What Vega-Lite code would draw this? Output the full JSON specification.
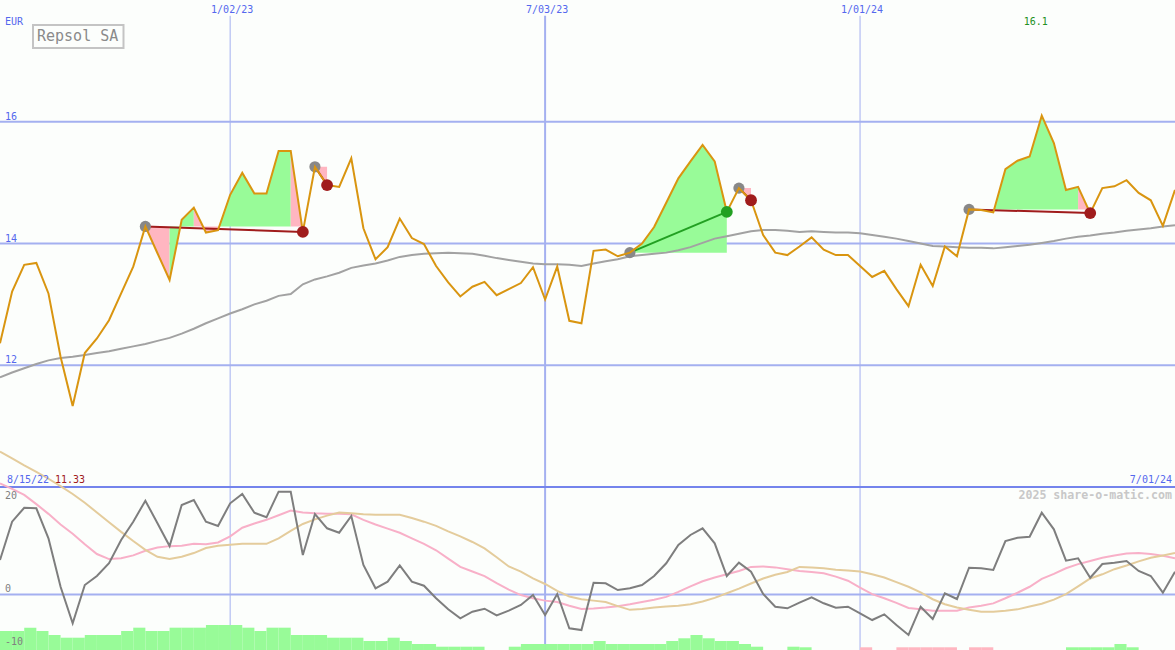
{
"$schema": "https://vega.github.io/schema/vega-lite/v6.json",
"width": 1175, "height": 650, "padding": 0, "autosize": {"type": "none"},
"background": "#fcfefc",
"config": {"view": {"stroke": null}, "font": "DejaVu Sans Mono"},
"datasets": {
"xticks": [
{"date":"2023-01-02","label":"1/02/23"},
{"date":"2023-07-03","label":"7/03/23"},
{"date":"2024-01-01","label":"1/01/24"}
],
"yticks": [
{"v":12,"label":"12"},
{"v":14,"label":"14"},
{"v":16,"label":"16"}
],
"oticks": [
{"v":20,"label":"20"},
{"v":0,"label":"0"},
{"v":-10,"label":"-10"}
],
"weekly": [
{"date":"2022-08-22","close":12.36,"ma":11.80,"osc":6.50,"fast":20.88,"slow":26.86},
{"date":"2022-08-29","close":13.21,"ma":11.88,"osc":13.69,"fast":19.84,"slow":25.56},
{"date":"2022-09-05","close":13.65,"ma":11.95,"osc":16.31,"fast":18.71,"slow":24.26},
{"date":"2022-09-12","close":13.68,"ma":12.02,"osc":16.20,"fast":16.98,"slow":23.05},
{"date":"2022-09-19","close":13.18,"ma":12.08,"osc":10.57,"fast":15.16,"slow":21.75},
{"date":"2022-09-26","close":12.14,"ma":12.12,"osc":1.48,"fast":13.17,"slow":20.36},
{"date":"2022-10-03","close":11.33,"ma":12.14,"osc":-5.39,"fast":11.44,"slow":18.89},
{"date":"2022-10-10","close":12.20,"ma":12.17,"osc":1.80,"fast":9.44,"slow":17.24},
{"date":"2022-10-17","close":12.44,"ma":12.20,"osc":3.49,"fast":7.62,"slow":15.42},
{"date":"2022-10-24","close":12.74,"ma":12.23,"osc":5.88,"fast":6.67,"slow":13.60},
{"date":"2022-10-31","close":13.18,"ma":12.27,"osc":10.25,"fast":6.84,"slow":11.78},
{"date":"2022-11-07","close":13.62,"ma":12.31,"osc":13.69,"fast":7.36,"slow":10.05},
{"date":"2022-11-14","close":14.28,"ma":12.35,"osc":17.63,"fast":8.23,"slow":8.40},
{"date":"2022-11-21","close":13.84,"ma":12.40,"osc":13.38,"fast":8.84,"slow":7.10},
{"date":"2022-11-28","close":13.40,"ma":12.45,"osc":9.12,"fast":9.10,"slow":6.67},
{"date":"2022-12-05","close":14.39,"ma":12.52,"osc":16.82,"fast":9.18,"slow":7.10},
{"date":"2022-12-12","close":14.59,"ma":12.60,"osc":17.76,"fast":9.53,"slow":7.80},
{"date":"2022-12-19","close":14.18,"ma":12.69,"osc":13.69,"fast":9.44,"slow":8.75},
{"date":"2022-12-26","close":14.22,"ma":12.77,"osc":12.88,"fast":9.79,"slow":9.18},
{"date":"2023-01-02","close":14.80,"ma":12.85,"osc":17.14,"fast":10.92,"slow":9.36},
{"date":"2023-01-09","close":15.16,"ma":12.92,"osc":18.88,"fast":12.56,"slow":9.53},
{"date":"2023-01-16","close":14.82,"ma":13.00,"osc":15.37,"fast":13.34,"slow":9.53},
{"date":"2023-01-23","close":14.82,"ma":13.06,"osc":14.51,"fast":14.04,"slow":9.53},
{"date":"2023-01-30","close":15.52,"ma":13.14,"osc":19.32,"fast":14.90,"slow":10.57},
{"date":"2023-02-06","close":15.52,"ma":13.17,"osc":19.32,"fast":15.77,"slow":11.96},
{"date":"2023-02-13","close":14.19,"ma":13.33,"osc":7.43,"fast":15.42,"slow":13.26},
{"date":"2023-02-20","close":15.26,"ma":13.41,"osc":15.13,"fast":15.25,"slow":14.12},
{"date":"2023-02-27","close":14.96,"ma":13.46,"osc":12.45,"fast":15.16,"slow":14.82},
{"date":"2023-03-06","close":14.93,"ma":13.52,"osc":11.62,"fast":15.16,"slow":15.42},
{"date":"2023-03-13","close":15.40,"ma":13.60,"osc":14.76,"fast":15.08,"slow":15.25},
{"date":"2023-03-20","close":14.25,"ma":13.64,"osc":5.56,"fast":14.04,"slow":15.08},
{"date":"2023-03-27","close":13.74,"ma":13.67,"osc":1.18,"fast":13.17,"slow":14.99},
{"date":"2023-04-03","close":13.94,"ma":13.72,"osc":2.42,"fast":12.39,"slow":14.99},
{"date":"2023-04-10","close":14.41,"ma":13.78,"osc":5.46,"fast":11.61,"slow":14.99},
{"date":"2023-04-17","close":14.09,"ma":13.81,"osc":2.42,"fast":10.57,"slow":14.38},
{"date":"2023-04-24","close":13.99,"ma":13.83,"osc":1.67,"fast":9.53,"slow":13.69},
{"date":"2023-05-01","close":13.63,"ma":13.84,"osc":-0.69,"fast":8.32,"slow":12.91},
{"date":"2023-05-08","close":13.36,"ma":13.85,"osc":-2.76,"fast":6.76,"slow":11.87},
{"date":"2023-05-15","close":13.13,"ma":13.84,"osc":-4.45,"fast":5.20,"slow":10.92},
{"date":"2023-05-22","close":13.29,"ma":13.83,"osc":-3.21,"fast":4.33,"slow":9.88},
{"date":"2023-05-29","close":13.37,"ma":13.80,"osc":-2.65,"fast":3.47,"slow":8.66},
{"date":"2023-06-05","close":13.15,"ma":13.76,"osc":-3.89,"fast":2.17,"slow":7.02},
{"date":"2023-06-12","close":13.25,"ma":13.73,"osc":-3.02,"fast":0.95,"slow":5.29},
{"date":"2023-06-19","close":13.35,"ma":13.70,"osc":-1.95,"fast":-0.09,"slow":4.33},
{"date":"2023-06-26","close":13.61,"ma":13.67,"osc":-0.08,"fast":-0.69,"slow":3.03},
{"date":"2023-07-03","close":13.08,"ma":13.66,"osc":-3.83,"fast":-1.13,"slow":1.99},
{"date":"2023-07-10","close":13.62,"ma":13.66,"osc":0.11,"fast":-1.39,"slow":0.69},
{"date":"2023-07-17","close":12.73,"ma":13.65,"osc":-6.33,"fast":-2.08,"slow":-0.35},
{"date":"2023-07-24","close":12.69,"ma":13.63,"osc":-6.65,"fast":-2.69,"slow":-0.87},
{"date":"2023-07-31","close":13.88,"ma":13.67,"osc":2.23,"fast":-2.60,"slow":-1.13},
{"date":"2023-08-07","close":13.90,"ma":13.71,"osc":2.12,"fast":-2.43,"slow":-1.39},
{"date":"2023-08-14","close":13.79,"ma":13.74,"osc":0.86,"fast":-2.17,"slow":-2.17},
{"date":"2023-08-21","close":13.85,"ma":13.79,"osc":1.18,"fast":-1.82,"slow":-2.86},
{"date":"2023-08-28","close":14.00,"ma":13.81,"osc":1.80,"fast":-1.39,"slow":-2.69},
{"date":"2023-09-04","close":14.27,"ma":13.83,"osc":3.49,"fast":-0.95,"slow":-2.43},
{"date":"2023-09-11","close":14.67,"ma":13.85,"osc":5.88,"fast":-0.43,"slow":-2.25},
{"date":"2023-09-18","close":15.07,"ma":13.89,"osc":9.31,"fast":0.52,"slow":-2.08},
{"date":"2023-09-25","close":15.35,"ma":13.94,"osc":11.19,"fast":1.56,"slow":-1.82},
{"date":"2023-10-02","close":15.62,"ma":14.01,"osc":12.45,"fast":2.51,"slow":-1.30},
{"date":"2023-10-09","close":15.35,"ma":14.08,"osc":9.63,"fast":3.21,"slow":-0.61},
{"date":"2023-10-16","close":14.52,"ma":14.12,"osc":3.49,"fast":3.81,"slow":0.26},
{"date":"2023-10-23","close":14.91,"ma":14.16,"osc":5.99,"fast":4.42,"slow":1.13},
{"date":"2023-10-30","close":14.71,"ma":14.20,"osc":4.30,"fast":5.20,"slow":2.08},
{"date":"2023-11-06","close":14.14,"ma":14.22,"osc":0.11,"fast":5.29,"slow":3.03},
{"date":"2023-11-13","close":13.85,"ma":14.22,"osc":-2.27,"fast":5.11,"slow":3.73},
{"date":"2023-11-20","close":13.81,"ma":14.21,"osc":-2.57,"fast":4.77,"slow":4.25},
{"date":"2023-11-27","close":13.95,"ma":14.19,"osc":-1.52,"fast":4.42,"slow":5.20},
{"date":"2023-12-04","close":14.10,"ma":14.20,"osc":-0.51,"fast":4.25,"slow":5.11},
{"date":"2023-12-11","close":13.90,"ma":14.19,"osc":-1.63,"fast":3.99,"slow":4.94},
{"date":"2023-12-18","close":13.81,"ma":14.18,"osc":-2.46,"fast":3.38,"slow":4.68},
{"date":"2023-12-25","close":13.81,"ma":14.18,"osc":-2.27,"fast":2.60,"slow":4.51},
{"date":"2024-01-01","close":13.63,"ma":14.17,"osc":-3.51,"fast":1.30,"slow":4.33},
{"date":"2024-01-08","close":13.45,"ma":14.14,"osc":-4.77,"fast":0.09,"slow":3.81},
{"date":"2024-01-15","close":13.55,"ma":14.11,"osc":-3.70,"fast":-0.69,"slow":3.21},
{"date":"2024-01-22","close":13.25,"ma":14.08,"osc":-5.71,"fast":-1.56,"slow":2.34},
{"date":"2024-01-29","close":12.97,"ma":14.04,"osc":-7.58,"fast":-2.51,"slow":1.47},
{"date":"2024-02-05","close":13.65,"ma":14.00,"osc":-2.27,"fast":-2.77,"slow":0.43},
{"date":"2024-02-12","close":13.30,"ma":13.96,"osc":-4.58,"fast":-3.03,"slow":-0.87},
{"date":"2024-02-19","close":13.95,"ma":13.95,"osc":0.24,"fast":-3.03,"slow":-1.82},
{"date":"2024-02-26","close":13.79,"ma":13.94,"osc":-0.83,"fast":-3.03,"slow":-2.43},
{"date":"2024-03-04","close":14.56,"ma":13.93,"osc":5.05,"fast":-2.43,"slow":-2.86},
{"date":"2024-03-11","close":14.55,"ma":13.93,"osc":4.94,"fast":-2.08,"slow":-3.21},
{"date":"2024-03-18","close":14.51,"ma":13.92,"osc":4.62,"fast":-1.65,"slow":-3.21},
{"date":"2024-03-25","close":15.22,"ma":13.94,"osc":10.06,"fast":-0.69,"slow":-3.03},
{"date":"2024-04-01","close":15.36,"ma":13.96,"osc":10.68,"fast":0.35,"slow":-2.77},
{"date":"2024-04-08","close":15.43,"ma":13.98,"osc":10.87,"fast":1.47,"slow":-2.25},
{"date":"2024-04-15","close":16.10,"ma":14.01,"osc":15.37,"fast":2.95,"slow":-1.73},
{"date":"2024-04-22","close":15.65,"ma":14.04,"osc":12.26,"fast":3.90,"slow":-0.95},
{"date":"2024-04-29","close":14.88,"ma":14.08,"osc":6.36,"fast":4.94,"slow":0.09},
{"date":"2024-05-06","close":14.93,"ma":14.11,"osc":6.81,"fast":5.72,"slow":1.56},
{"date":"2024-05-13","close":14.50,"ma":14.13,"osc":3.17,"fast":6.32,"slow":3.03},
{"date":"2024-05-20","close":14.91,"ma":14.16,"osc":5.74,"fast":6.93,"slow":3.81},
{"date":"2024-05-27","close":14.94,"ma":14.18,"osc":5.99,"fast":7.36,"slow":4.77},
{"date":"2024-06-03","close":15.04,"ma":14.21,"osc":6.31,"fast":7.71,"slow":5.46},
{"date":"2024-06-10","close":14.83,"ma":14.23,"osc":4.43,"fast":7.80,"slow":6.24},
{"date":"2024-06-17","close":14.71,"ma":14.25,"osc":3.49,"fast":7.62,"slow":6.93},
{"date":"2024-06-24","close":14.29,"ma":14.28,"osc":0.36,"fast":7.28,"slow":7.36},
{"date":"2024-07-01","close":14.88,"ma":14.30,"osc":4.30,"fast":6.84,"slow":7.80}
],
"bars": [
{"date":"2022-08-22","end":"2022-08-29","h":-6.83,"dir":"up"},
{"date":"2022-08-29","end":"2022-09-05","h":-6.83,"dir":"up"},
{"date":"2022-09-05","end":"2022-09-12","h":-6.21,"dir":"up"},
{"date":"2022-09-12","end":"2022-09-19","h":-6.83,"dir":"up"},
{"date":"2022-09-19","end":"2022-09-26","h":-7.58,"dir":"up"},
{"date":"2022-09-26","end":"2022-10-03","h":-8.09,"dir":"up"},
{"date":"2022-10-03","end":"2022-10-10","h":-8.09,"dir":"up"},
{"date":"2022-10-10","end":"2022-10-17","h":-7.58,"dir":"up"},
{"date":"2022-10-17","end":"2022-10-24","h":-7.58,"dir":"up"},
{"date":"2022-10-24","end":"2022-10-31","h":-7.58,"dir":"up"},
{"date":"2022-10-31","end":"2022-11-07","h":-6.83,"dir":"up"},
{"date":"2022-11-07","end":"2022-11-14","h":-6.21,"dir":"up"},
{"date":"2022-11-14","end":"2022-11-21","h":-6.83,"dir":"up"},
{"date":"2022-11-21","end":"2022-11-28","h":-6.83,"dir":"up"},
{"date":"2022-11-28","end":"2022-12-05","h":-6.21,"dir":"up"},
{"date":"2022-12-05","end":"2022-12-12","h":-6.21,"dir":"up"},
{"date":"2022-12-12","end":"2022-12-19","h":-6.21,"dir":"up"},
{"date":"2022-12-19","end":"2022-12-26","h":-5.71,"dir":"up"},
{"date":"2022-12-26","end":"2023-01-02","h":-5.71,"dir":"up"},
{"date":"2023-01-02","end":"2023-01-09","h":-5.71,"dir":"up"},
{"date":"2023-01-09","end":"2023-01-16","h":-6.21,"dir":"up"},
{"date":"2023-01-16","end":"2023-01-23","h":-6.83,"dir":"up"},
{"date":"2023-01-23","end":"2023-01-30","h":-6.21,"dir":"up"},
{"date":"2023-01-30","end":"2023-02-06","h":-6.21,"dir":"up"},
{"date":"2023-02-06","end":"2023-02-13","h":-7.58,"dir":"up"},
{"date":"2023-02-13","end":"2023-02-20","h":-7.58,"dir":"up"},
{"date":"2023-02-20","end":"2023-02-27","h":-7.58,"dir":"up"},
{"date":"2023-02-27","end":"2023-03-06","h":-8.09,"dir":"up"},
{"date":"2023-03-06","end":"2023-03-13","h":-8.09,"dir":"up"},
{"date":"2023-03-13","end":"2023-03-20","h":-8.09,"dir":"up"},
{"date":"2023-03-20","end":"2023-03-27","h":-8.71,"dir":"up"},
{"date":"2023-03-27","end":"2023-04-03","h":-8.71,"dir":"up"},
{"date":"2023-04-03","end":"2023-04-10","h":-8.09,"dir":"up"},
{"date":"2023-04-10","end":"2023-04-17","h":-8.71,"dir":"up"},
{"date":"2023-04-17","end":"2023-04-24","h":-9.27,"dir":"up"},
{"date":"2023-04-24","end":"2023-05-01","h":-9.27,"dir":"up"},
{"date":"2023-05-01","end":"2023-05-08","h":-9.78,"dir":"up"},
{"date":"2023-05-08","end":"2023-05-15","h":-9.78,"dir":"up"},
{"date":"2023-05-15","end":"2023-05-22","h":-9.78,"dir":"up"},
{"date":"2023-05-22","end":"2023-05-29","h":-9.78,"dir":"up"},
{"date":"2023-06-12","end":"2023-06-19","h":-9.78,"dir":"up"},
{"date":"2023-06-19","end":"2023-06-26","h":-9.27,"dir":"up"},
{"date":"2023-06-26","end":"2023-07-03","h":-9.27,"dir":"up"},
{"date":"2023-07-03","end":"2023-07-10","h":-9.27,"dir":"up"},
{"date":"2023-07-10","end":"2023-07-17","h":-9.27,"dir":"up"},
{"date":"2023-07-17","end":"2023-07-24","h":-9.27,"dir":"up"},
{"date":"2023-07-24","end":"2023-07-31","h":-9.27,"dir":"up"},
{"date":"2023-07-31","end":"2023-08-07","h":-8.71,"dir":"up"},
{"date":"2023-08-07","end":"2023-08-14","h":-9.27,"dir":"up"},
{"date":"2023-08-14","end":"2023-08-21","h":-9.27,"dir":"up"},
{"date":"2023-08-21","end":"2023-08-28","h":-9.27,"dir":"up"},
{"date":"2023-08-28","end":"2023-09-04","h":-9.27,"dir":"up"},
{"date":"2023-09-04","end":"2023-09-11","h":-9.27,"dir":"up"},
{"date":"2023-09-11","end":"2023-09-18","h":-8.71,"dir":"up"},
{"date":"2023-09-18","end":"2023-09-25","h":-8.20,"dir":"up"},
{"date":"2023-09-25","end":"2023-10-02","h":-7.58,"dir":"up"},
{"date":"2023-10-02","end":"2023-10-09","h":-8.20,"dir":"up"},
{"date":"2023-10-09","end":"2023-10-16","h":-8.71,"dir":"up"},
{"date":"2023-10-16","end":"2023-10-23","h":-8.71,"dir":"up"},
{"date":"2023-10-23","end":"2023-10-30","h":-9.27,"dir":"up"},
{"date":"2023-10-30","end":"2023-11-06","h":-9.78,"dir":"up"},
{"date":"2023-11-20","end":"2023-11-27","h":-9.78,"dir":"up"},
{"date":"2023-11-27","end":"2023-12-04","h":-9.89,"dir":"up"},
{"date":"2024-01-01","end":"2024-01-08","h":-9.89,"dir":"down"},
{"date":"2024-01-22","end":"2024-01-29","h":-9.89,"dir":"down"},
{"date":"2024-01-29","end":"2024-02-05","h":-9.89,"dir":"down"},
{"date":"2024-02-05","end":"2024-02-12","h":-9.89,"dir":"down"},
{"date":"2024-02-12","end":"2024-02-19","h":-9.89,"dir":"down"},
{"date":"2024-02-19","end":"2024-02-26","h":-9.89,"dir":"down"},
{"date":"2024-03-04","end":"2024-03-11","h":-9.89,"dir":"down"},
{"date":"2024-03-11","end":"2024-03-18","h":-9.89,"dir":"down"},
{"date":"2024-04-29","end":"2024-05-06","h":-9.89,"dir":"up"},
{"date":"2024-05-06","end":"2024-05-13","h":-9.89,"dir":"up"},
{"date":"2024-05-13","end":"2024-05-20","h":-9.89,"dir":"up"},
{"date":"2024-05-20","end":"2024-05-27","h":-9.89,"dir":"up"},
{"date":"2024-05-27","end":"2024-06-03","h":-9.27,"dir":"up"},
{"date":"2024-06-03","end":"2024-06-10","h":-9.89,"dir":"up"}
],
"fills": [
{"run":"a","date":"2022-11-14","close":14.28,"level":14.28,"dir":"down"},
{"run":"a","date":"2022-11-21","close":13.84,"level":14.28,"dir":"down"},
{"run":"a","date":"2022-11-28","close":13.40,"level":14.28,"dir":"down"},
{"run":"b","date":"2022-11-28","close":13.40,"level":14.28,"dir":"up"},
{"run":"b","date":"2022-12-05","close":14.39,"level":14.28,"dir":"up"},
{"run":"b","date":"2022-12-12","close":14.59,"level":14.28,"dir":"up"},
{"run":"c","date":"2022-12-12","close":14.59,"level":14.28,"dir":"down"},
{"run":"c","date":"2022-12-19","close":14.18,"level":14.28,"dir":"down"},
{"run":"c","date":"2022-12-26","close":14.22,"level":14.28,"dir":"down"},
{"run":"d","date":"2022-12-26","close":14.22,"level":14.28,"dir":"up"},
{"run":"d","date":"2023-01-02","close":14.80,"level":14.28,"dir":"up"},
{"run":"d","date":"2023-01-09","close":15.16,"level":14.28,"dir":"up"},
{"run":"d","date":"2023-01-16","close":14.82,"level":14.28,"dir":"up"},
{"run":"d","date":"2023-01-23","close":14.82,"level":14.28,"dir":"up"},
{"run":"d","date":"2023-01-30","close":15.52,"level":14.28,"dir":"up"},
{"run":"d","date":"2023-02-06","close":15.52,"level":14.28,"dir":"up"},
{"run":"e","date":"2023-02-06","close":15.52,"level":14.28,"dir":"down"},
{"run":"e","date":"2023-02-13","close":14.19,"level":14.28,"dir":"down"},
{"run":"f","date":"2023-02-20","close":15.26,"level":15.26,"dir":"down"},
{"run":"f","date":"2023-02-27","close":14.96,"level":15.26,"dir":"down"},
{"run":"g","date":"2023-08-21","close":13.85,"level":13.85,"dir":"up"},
{"run":"g","date":"2023-08-28","close":14.00,"level":13.85,"dir":"up"},
{"run":"g","date":"2023-09-04","close":14.27,"level":13.85,"dir":"up"},
{"run":"g","date":"2023-09-11","close":14.67,"level":13.85,"dir":"up"},
{"run":"g","date":"2023-09-18","close":15.07,"level":13.85,"dir":"up"},
{"run":"g","date":"2023-09-25","close":15.35,"level":13.85,"dir":"up"},
{"run":"g","date":"2023-10-02","close":15.62,"level":13.85,"dir":"up"},
{"run":"g","date":"2023-10-09","close":15.35,"level":13.85,"dir":"up"},
{"run":"g","date":"2023-10-16","close":14.52,"level":13.85,"dir":"up"},
{"run":"h","date":"2023-10-23","close":14.91,"level":14.91,"dir":"down"},
{"run":"h","date":"2023-10-30","close":14.71,"level":14.91,"dir":"down"},
{"run":"i","date":"2024-03-04","close":14.56,"level":14.56,"dir":"down"},
{"run":"i","date":"2024-03-11","close":14.55,"level":14.56,"dir":"down"},
{"run":"i","date":"2024-03-18","close":14.51,"level":14.56,"dir":"down"},
{"run":"j","date":"2024-03-18","close":14.51,"level":14.56,"dir":"up"},
{"run":"j","date":"2024-03-25","close":15.22,"level":14.56,"dir":"up"},
{"run":"j","date":"2024-04-01","close":15.36,"level":14.56,"dir":"up"},
{"run":"j","date":"2024-04-08","close":15.43,"level":14.56,"dir":"up"},
{"run":"j","date":"2024-04-15","close":16.10,"level":14.56,"dir":"up"},
{"run":"j","date":"2024-04-22","close":15.65,"level":14.56,"dir":"up"},
{"run":"j","date":"2024-04-29","close":14.88,"level":14.56,"dir":"up"},
{"run":"j","date":"2024-05-06","close":14.93,"level":14.56,"dir":"up"},
{"run":"k","date":"2024-05-06","close":14.93,"level":14.56,"dir":"down"},
{"run":"k","date":"2024-05-13","close":14.50,"level":14.56,"dir":"down"}
],
"trades": [
{"date":"2022-11-14","date2":"2023-02-13","close":14.28,"close2":14.19,"outcome":"loss"},
{"date":"2023-02-20","date2":"2023-02-27","close":15.26,"close2":14.96,"outcome":"loss"},
{"date":"2023-08-21","date2":"2023-10-16","close":13.85,"close2":14.52,"outcome":"win"},
{"date":"2023-10-23","date2":"2023-10-30","close":14.91,"close2":14.71,"outcome":"loss"},
{"date":"2024-03-04","date2":"2024-05-13","close":14.56,"close2":14.50,"outcome":"loss"}
],
"dots": [
{"date":"2022-11-14","close":14.28,"kind":"entry"},
{"date":"2023-02-20","close":15.26,"kind":"entry"},
{"date":"2023-08-21","close":13.85,"kind":"entry"},
{"date":"2023-10-23","close":14.91,"kind":"entry"},
{"date":"2024-03-04","close":14.56,"kind":"entry"},
{"date":"2023-02-13","close":14.19,"kind":"loss"},
{"date":"2023-02-27","close":14.96,"kind":"loss"},
{"date":"2023-10-16","close":14.52,"kind":"win"},
{"date":"2023-10-30","close":14.71,"kind":"loss"},
{"date":"2024-05-13","close":14.50,"kind":"loss"}
]
},
"layer": [
{"layer": [
 {"data": {"name": "xticks"}, "mark": {"type": "rule", "color": "#a4b0f0"},
  "encoding": {
   "x": {"field": "date", "type": "temporal", "scale": {"type": "utc", "domain": [{"year": 2022, "month": 8, "date": 22, "utc": true}, {"year": 2024, "month": 7, "date": 1, "utc": true}]}, "axis": null},
   "y": {"datum": 17.74, "type": "quantitative", "scale": {"domain": [10, 18], "range": [487, 0], "nice": false, "zero": false}, "axis": null},
   "y2": {"datum": 7.32},
   "strokeWidth": {"condition": {"test": "utcmonth(datum.date) === 6", "value": 2}, "value": 1}
  }},
 {"data": {"name": "yticks"}, "mark": {"type": "rule", "color": "#a4b0f0", "strokeWidth": 2},
  "encoding": {
   "y": {"field": "v", "type": "quantitative", "scale": {"domain": [10, 18], "range": [487, 0], "nice": false, "zero": false}, "axis": null}
  }},
 {"data": {"name": "xticks"}, "mark": {"type": "text", "align": "center", "baseline": "alphabetic", "dx": 2, "font": "DejaVu Sans Mono", "fontSize": 10, "color": "#5468ee"},
  "encoding": {
   "x": {"field": "date", "type": "temporal", "scale": {"type": "utc", "domain": [{"year": 2022, "month": 8, "date": 22, "utc": true}, {"year": 2024, "month": 7, "date": 1, "utc": true}]}, "axis": null},
   "y": {"datum": 17.786, "type": "quantitative", "scale": {"domain": [10, 18], "range": [487, 0], "nice": false, "zero": false}, "axis": null},
   "text": {"field": "label"}
  }},
 {"data": {"name": "yticks"}, "mark": {"type": "text", "align": "left", "baseline": "alphabetic", "dy": -2, "font": "DejaVu Sans Mono", "fontSize": 10, "color": "#5468ee"},
  "encoding": {
   "x": {"value": 5},
   "y": {"field": "v", "type": "quantitative", "scale": {"domain": [10, 18], "range": [487, 0], "nice": false, "zero": false}, "axis": null},
   "text": {"field": "label"}
  }},
 {"data": {"name": "fills"}, "mark": {"type": "area", "opacity": 1},
  "encoding": {
   "x": {"field": "date", "type": "temporal", "scale": {"type": "utc", "domain": [{"year": 2022, "month": 8, "date": 22, "utc": true}, {"year": 2024, "month": 7, "date": 1, "utc": true}]}, "axis": null},
   "y": {"field": "close", "type": "quantitative", "scale": {"domain": [10, 18], "range": [487, 0], "nice": false, "zero": false}, "axis": null},
   "y2": {"field": "level"},
   "detail": {"field": "run"},
   "color": {"field": "dir", "type": "nominal", "scale": {"domain": ["up", "down"], "range": ["#98fb98", "#ffb6c1"]}, "legend": null}
  }},
 {"data": {"name": "weekly"}, "mark": {"type": "line", "color": "#a2a2a2", "strokeWidth": 2},
  "encoding": {
   "x": {"field": "date", "type": "temporal", "scale": {"type": "utc", "domain": [{"year": 2022, "month": 8, "date": 22, "utc": true}, {"year": 2024, "month": 7, "date": 1, "utc": true}]}, "axis": null},
   "y": {"field": "ma", "type": "quantitative", "scale": {"domain": [10, 18], "range": [487, 0], "nice": false, "zero": false}, "axis": null}
  }},
 {"data": {"name": "trades"}, "mark": {"type": "rule", "strokeWidth": 2},
  "encoding": {
   "x": {"field": "date", "type": "temporal", "scale": {"type": "utc", "domain": [{"year": 2022, "month": 8, "date": 22, "utc": true}, {"year": 2024, "month": 7, "date": 1, "utc": true}]}, "axis": null},
   "x2": {"field": "date2"},
   "y": {"field": "close", "type": "quantitative", "scale": {"domain": [10, 18], "range": [487, 0], "nice": false, "zero": false}, "axis": null},
   "y2": {"field": "close2"},
   "stroke": {"field": "outcome", "type": "nominal", "scale": {"domain": ["win", "loss"], "range": ["#22a022", "#a01c1c"]}, "legend": null}
  }},
 {"data": {"name": "dots"}, "transform": [{"filter": "datum.kind === 'entry'"}],
  "mark": {"type": "point", "filled": true, "size": 125, "opacity": 1, "strokeWidth": 0},
  "encoding": {
   "x": {"field": "date", "type": "temporal", "scale": {"type": "utc", "domain": [{"year": 2022, "month": 8, "date": 22, "utc": true}, {"year": 2024, "month": 7, "date": 1, "utc": true}]}, "axis": null},
   "y": {"field": "close", "type": "quantitative", "scale": {"domain": [10, 18], "range": [487, 0], "nice": false, "zero": false}, "axis": null},
   "fill": {"field": "kind", "type": "nominal", "scale": {"domain": ["entry", "win", "loss"], "range": ["#888888", "#22a022", "#a01c1c"]}, "legend": null}
  }},
 {"data": {"name": "weekly"}, "mark": {"type": "line", "color": "#d99510", "strokeWidth": 2},
  "encoding": {
   "x": {"field": "date", "type": "temporal", "scale": {"type": "utc", "domain": [{"year": 2022, "month": 8, "date": 22, "utc": true}, {"year": 2024, "month": 7, "date": 1, "utc": true}]}, "axis": null},
   "y": {"field": "close", "type": "quantitative", "scale": {"domain": [10, 18], "range": [487, 0], "nice": false, "zero": false}, "axis": null}
  }},
 {"data": {"name": "dots"}, "transform": [{"filter": "datum.kind !== 'entry'"}],
  "mark": {"type": "point", "filled": true, "size": 140, "opacity": 1, "strokeWidth": 0},
  "encoding": {
   "x": {"field": "date", "type": "temporal", "scale": {"type": "utc", "domain": [{"year": 2022, "month": 8, "date": 22, "utc": true}, {"year": 2024, "month": 7, "date": 1, "utc": true}]}, "axis": null},
   "y": {"field": "close", "type": "quantitative", "scale": {"domain": [10, 18], "range": [487, 0], "nice": false, "zero": false}, "axis": null},
   "fill": {"field": "kind", "type": "nominal", "scale": {"domain": ["entry", "win", "loss"], "range": ["#888888", "#22a022", "#a01c1c"]}, "legend": null}
  }},
 {"data": {"values": [{"v": 10}]}, "mark": {"type": "rule", "color": "#7484ec", "strokeWidth": 2},
  "encoding": {
   "y": {"field": "v", "type": "quantitative", "scale": {"domain": [10, 18], "range": [487, 0], "nice": false, "zero": false}, "axis": null}
  }}
]},
{"layer": [
 {"data": {"name": "oticks"}, "transform": [{"filter": "datum.v === 0"}], "mark": {"type": "rule", "color": "#a4b0f0", "strokeWidth": 2},
  "encoding": {
   "y": {"field": "v", "type": "quantitative", "scale": {"domain": [-10.4, 20.2], "range": [650, 487], "nice": false, "zero": false}, "axis": null}
  }},
 {"data": {"name": "bars"}, "mark": {"type": "rect"},
  "encoding": {
   "x": {"field": "date", "type": "temporal", "scale": {"type": "utc", "domain": [{"year": 2022, "month": 8, "date": 22, "utc": true}, {"year": 2024, "month": 7, "date": 1, "utc": true}]}, "axis": null},
   "x2": {"field": "end"},
   "y": {"field": "h", "type": "quantitative", "scale": {"domain": [-10.4, 20.2], "range": [650, 487], "nice": false, "zero": false}, "axis": null},
   "y2": {"datum": -10.4},
   "color": {"field": "dir", "type": "nominal", "scale": {"domain": ["up", "down"], "range": ["#98fb98", "#ffb6c1"]}, "legend": null}
  }},
 {"data": {"name": "weekly"}, "mark": {"type": "line", "color": "#f8b0c8", "strokeWidth": 2},
  "encoding": {
   "x": {"field": "date", "type": "temporal", "scale": {"type": "utc", "domain": [{"year": 2022, "month": 8, "date": 22, "utc": true}, {"year": 2024, "month": 7, "date": 1, "utc": true}]}, "axis": null},
   "y": {"field": "fast", "type": "quantitative", "scale": {"domain": [-10.4, 20.2], "range": [650, 487], "nice": false, "zero": false}, "axis": null}
  }},
 {"data": {"name": "weekly"}, "mark": {"type": "line", "color": "#e4cc9c", "strokeWidth": 2},
  "encoding": {
   "x": {"field": "date", "type": "temporal", "scale": {"type": "utc", "domain": [{"year": 2022, "month": 8, "date": 22, "utc": true}, {"year": 2024, "month": 7, "date": 1, "utc": true}]}, "axis": null},
   "y": {"field": "slow", "type": "quantitative", "scale": {"domain": [-10.4, 20.2], "range": [650, 487], "nice": false, "zero": false}, "axis": null}
  }},
 {"data": {"name": "weekly"}, "mark": {"type": "line", "color": "#7e7e7e", "strokeWidth": 2},
  "encoding": {
   "x": {"field": "date", "type": "temporal", "scale": {"type": "utc", "domain": [{"year": 2022, "month": 8, "date": 22, "utc": true}, {"year": 2024, "month": 7, "date": 1, "utc": true}]}, "axis": null},
   "y": {"field": "osc", "type": "quantitative", "scale": {"domain": [-10.4, 20.2], "range": [650, 487], "nice": false, "zero": false}, "axis": null}
  }},
 {"data": {"name": "oticks"}, "transform": [{"filter": "datum.v !== 20"}], "mark": {"type": "text", "align": "left", "baseline": "alphabetic", "dy": -2.5, "font": "DejaVu Sans Mono", "fontSize": 10, "color": "#808080"},
  "encoding": {
   "x": {"value": 5},
   "y": {"field": "v", "type": "quantitative", "scale": {"domain": [-10.4, 20.2], "range": [650, 487], "nice": false, "zero": false}, "axis": null},
   "text": {"field": "label"}
  }},
 {"data": {"name": "oticks"}, "transform": [{"filter": "datum.v === 20"}], "mark": {"type": "text", "align": "left", "baseline": "alphabetic", "dy": 11, "font": "DejaVu Sans Mono", "fontSize": 10, "color": "#808080"},
  "encoding": {
   "x": {"value": 5},
   "y": {"field": "v", "type": "quantitative", "scale": {"domain": [-10.4, 20.2], "range": [650, 487], "nice": false, "zero": false}, "axis": null},
   "text": {"field": "label"}
  }}
]},
{"data": {"values": [{"t": "EUR"}]}, "mark": {"type": "text", "align": "left", "baseline": "alphabetic", "font": "DejaVu Sans Mono", "fontSize": 10, "color": "#5468ee"},
 "encoding": {"x": {"value": 5}, "y": {"value": 25}, "text": {"field": "t"}}},
{"data": {"values": [{}]}, "mark": {"type": "rect", "fill": "#fcfefc", "stroke": "#c4c4c4", "strokeWidth": 2},
 "encoding": {"x": {"value": 33}, "x2": {"value": 123.5}, "y": {"value": 25}, "y2": {"value": 48}}},
{"data": {"values": [{"t": "Repsol SA"}]}, "mark": {"type": "text", "align": "left", "baseline": "alphabetic", "font": "DejaVu Sans Mono", "fontSize": 15, "color": "#8a8a8a"},
 "encoding": {"x": {"value": 37}, "y": {"value": 40.5}, "text": {"field": "t"}}},
{"data": {"name": "weekly"}, "transform": [{"joinaggregate": [{"op": "max", "field": "close", "as": "mx"}]}, {"filter": "datum.close === datum.mx"}],
 "mark": {"type": "text", "align": "center", "baseline": "alphabetic", "dx": -6, "font": "DejaVu Sans Mono", "fontSize": 10, "color": "#229022"},
 "encoding": {
  "x": {"field": "date", "type": "temporal", "scale": {"type": "utc", "domain": [{"year": 2022, "month": 8, "date": 22, "utc": true}, {"year": 2024, "month": 7, "date": 1, "utc": true}]}, "axis": null},
  "y": {"value": 25}, "text": {"field": "close", "type": "quantitative", "format": ".1f"}}},
{"data": {"values": [{"t": "8/15/22"}]}, "mark": {"type": "text", "align": "left", "baseline": "alphabetic", "font": "DejaVu Sans Mono", "fontSize": 10, "color": "#5468ee"},
 "encoding": {"x": {"value": 7}, "y": {"value": 483}, "text": {"field": "t"}}},
{"data": {"name": "weekly"}, "transform": [{"joinaggregate": [{"op": "min", "field": "close", "as": "mn"}]}, {"filter": "datum.close === datum.mn"}],
 "mark": {"type": "text", "align": "left", "baseline": "alphabetic", "font": "DejaVu Sans Mono", "fontSize": 10, "color": "#a01c1c"},
 "encoding": {"x": {"value": 55}, "y": {"value": 483}, "text": {"field": "close", "type": "quantitative", "format": ".2f"}}},
{"data": {"values": [{"t": "7/01/24"}]}, "mark": {"type": "text", "align": "right", "baseline": "alphabetic", "font": "DejaVu Sans Mono", "fontSize": 10, "color": "#5468ee"},
 "encoding": {"x": {"value": 1172}, "y": {"value": 483}, "text": {"field": "t"}}},
{"data": {"values": [{"t": "2025 share-o-matic.com"}]}, "mark": {"type": "text", "align": "right", "baseline": "alphabetic", "font": "DejaVu Sans Mono", "fontSize": 11.6, "fontWeight": "bold", "color": "#c8c8c8"},
 "encoding": {"x": {"value": 1172}, "y": {"value": 499}, "text": {"field": "t"}}}
],
"resolve": {"scale": {"y": "independent"}}
}
